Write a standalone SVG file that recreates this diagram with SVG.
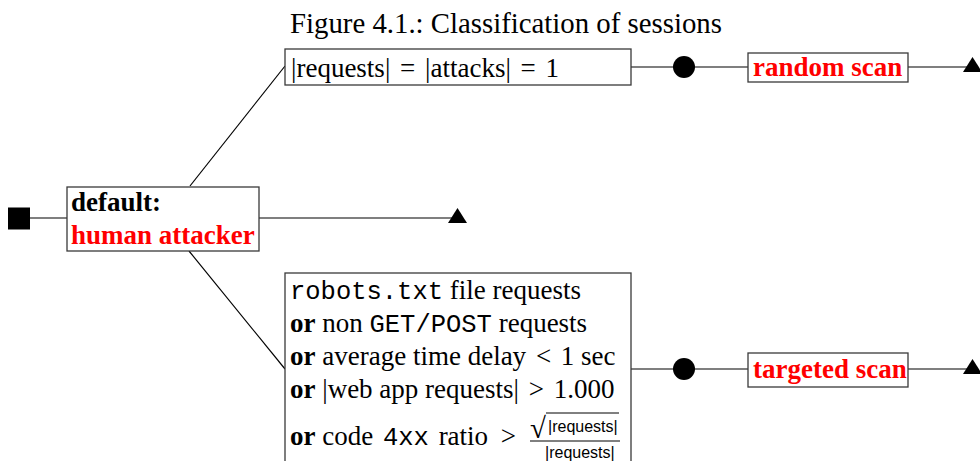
<svg xmlns="http://www.w3.org/2000/svg" xmlns:xlink="http://www.w3.org/1999/xlink" width="980" height="461" viewBox="0 0 980 461">
<style>
text { font-family: "Liberation Serif", "Times New Roman", serif; font-size: 27px; fill: #000; }
.title { font-size: 28.8px; }
.b { font-weight: bold; }
.red { fill: #ff0000; font-weight: bold; }
.mono { font-family: "Liberation Mono", "Courier New", monospace; font-size: 25.5px; }
.small { font-family: "Liberation Sans", Arial, sans-serif; font-size: 16px; }
.box { fill: #fff; stroke: #3a3a3a; stroke-width: 1.3; }
.conn { stroke: #000; stroke-width: 1.2; fill: none; }
.thin { stroke: #000; stroke-width: 1; }
.mark { fill: #000; stroke: none; }
</style>
<defs>
<polygon id="tri" points="-9.5,5 0,-10 9.5,5"/>
<circle id="dot" r="11"/>
</defs>
<rect width="980" height="461" fill="#fff"/>
<text class="title" x="290" y="33">Figure 4.1.: Classification of sessions</text>

<g id="connectors">
<line class="conn" x1="30" y1="218" x2="67" y2="218"/>
<line class="conn" x1="190" y1="186" x2="285" y2="66"/>
<line class="conn" x1="189" y1="251" x2="285" y2="369"/>
<line class="conn" x1="259" y1="218" x2="455" y2="218"/>
<line class="conn" x1="631" y1="67" x2="748" y2="67"/>
<line class="conn" x1="908" y1="67" x2="968" y2="67"/>
<line class="conn" x1="631" y1="369" x2="748" y2="369"/>
<line class="conn" x1="908" y1="369" x2="968" y2="369"/>
<rect class="mark" x="8" y="207.5" width="22" height="22"/>
<use class="mark" xlink:href="#tri" x="457.5" y="218"/>
<use class="mark" xlink:href="#dot" x="684" y="67"/>
<use class="mark" xlink:href="#tri" x="972.5" y="67"/>
<use class="mark" xlink:href="#dot" x="684" y="369"/>
<use class="mark" xlink:href="#tri" x="972.5" y="369"/>
</g>

<g id="default">
<rect class="box" x="67" y="187" width="192" height="64"/>
<text class="b" x="71" y="211">default:</text>
<text class="red" x="71" y="244">human attacker</text>
</g>

<g id="cond-random">
<rect class="box" x="285" y="49" width="346" height="36"/>
<text x="291" y="77">|requests| <tspan dx="3">=</tspan> <tspan dx="3">|attacks|</tspan> <tspan dx="3">=</tspan> <tspan dx="3">1</tspan></text>
</g>

<g id="random-scan">
<rect class="box" x="748" y="53" width="160" height="29"/>
<text class="red" x="753" y="76">random scan</text>
</g>

<g id="cond-targeted">
<rect class="box" x="285" y="273" width="346" height="192"/>
<text x="290" y="299"><tspan class="mono">robots.txt</tspan> file requests</text>
<text x="290" y="332"><tspan class="b">or</tspan> non <tspan class="mono">GET/POST</tspan> requests</text>
<text x="290" y="365"><tspan class="b">or</tspan> average time delay <tspan dx="3">&lt;</tspan> <tspan dx="3">1</tspan> sec</text>
<text x="290" y="398"><tspan class="b">or</tspan> |web app requests| <tspan dx="3">&gt;</tspan> <tspan dx="3">1.000</tspan></text>
<text x="290" y="445"><tspan class="b">or</tspan> code <tspan class="mono" dx="3">4xx</tspan> <tspan dx="3">ratio</tspan> <tspan dx="6">&gt;</tspan></text>
<text x="530" y="438" style="font-size:29px">√</text>
<line class="thin" x1="546" y1="413" x2="619" y2="413"/>
<text class="small" x="548" y="432">|requests|</text>
<line class="thin" x1="530" y1="441" x2="620" y2="441"/>
<text class="small" x="545" y="458">|requests|</text>
</g>

<g id="targeted-scan">
<rect class="box" x="748" y="353" width="160" height="34"/>
<text class="red" x="753" y="378">targeted scan</text>
</g>
</svg>
